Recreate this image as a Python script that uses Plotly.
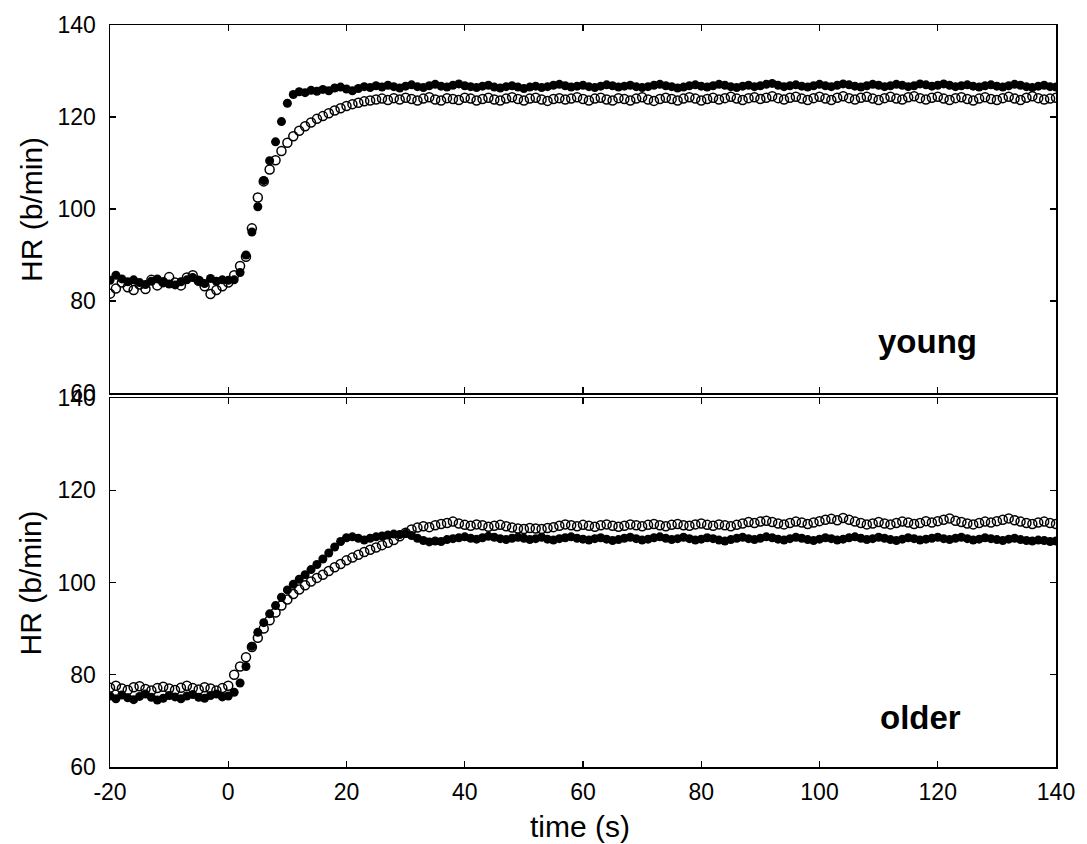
import plotly.graph_objects as go

# time (s), one sample per second
time_s = [-20, -19, -18, -17, -16, -15, -14, -13, -12, -11,
          -10, -9, -8, -7, -6, -5, -4, -3, -2, -1,
          0, 1, 2, 3, 4, 5, 6, 7, 8, 9,
          10, 11, 12, 13, 14, 15, 16, 17, 18, 19,
          20, 21, 22, 23, 24, 25, 26, 27, 28, 29,
          30, 31, 32, 33, 34, 35, 36, 37, 38, 39,
          40, 41, 42, 43, 44, 45, 46, 47, 48, 49,
          50, 51, 52, 53, 54, 55, 56, 57, 58, 59,
          60, 61, 62, 63, 64, 65, 66, 67, 68, 69,
          70, 71, 72, 73, 74, 75, 76, 77, 78, 79,
          80, 81, 82, 83, 84, 85, 86, 87, 88, 89,
          90, 91, 92, 93, 94, 95, 96, 97, 98, 99,
          100, 101, 102, 103, 104, 105, 106, 107, 108, 109,
          110, 111, 112, 113, 114, 115, 116, 117, 118, 119,
          120, 121, 122, 123, 124, 125, 126, 127, 128, 129,
          130, 131, 132, 133, 134, 135, 136, 137, 138, 139,
          140]

# young subjects, filled symbols
young_filled = [84.5, 85.6, 84.8, 84.2, 84.6, 84.0, 83.6, 84.3, 84.8, 84.1,
                83.7, 83.5, 84.2, 84.6, 85.1, 84.4, 83.8, 84.9, 84.3, 84.6,
                84.5, 84.6, 86.2, 90.0, 95.0, 100.5, 106.2, 110.5, 114.6, 119.0,
                123.0, 124.9, 125.5, 125.3, 125.8, 125.6, 126.0, 125.7, 126.3, 126.5,
                126.1, 125.7, 126.2, 126.6, 126.4, 126.8, 126.5, 126.9, 126.6, 126.3,
                126.7, 127.0, 126.6, 126.4, 126.8, 127.1, 126.7, 126.5, 126.9, 127.2,
                126.8, 126.6, 126.4, 126.7, 126.9, 126.5, 126.3, 126.6, 126.8, 126.5,
                126.2, 126.5, 126.7, 126.4, 126.6, 126.9, 127.1, 126.8, 126.5, 126.7,
                126.9, 126.6, 126.4, 126.7, 127.0, 126.8, 126.5, 126.7, 126.9, 126.6,
                126.4, 126.6, 126.9, 127.1, 126.8, 126.6, 126.3, 126.5, 126.8, 127.0,
                126.7, 126.5, 126.8, 127.1, 126.9, 126.6, 126.4, 126.7, 126.9, 126.6,
                126.8, 127.1, 127.3, 126.9, 126.6, 126.8, 127.0, 126.7, 126.5, 126.8,
                127.1, 126.8, 126.6, 126.9, 127.2, 127.0, 126.7, 126.5, 126.8, 127.1,
                126.9, 126.6, 126.8, 127.1, 126.9, 126.6, 126.8, 127.2, 127.0, 126.7,
                126.9, 127.2, 126.9, 126.6, 126.8, 127.0, 126.7, 126.5, 126.8, 127.0,
                126.7, 126.5, 126.8, 127.1, 126.9, 126.6, 126.4, 126.7, 126.9, 126.6,
                126.5]

# young subjects, open symbols
young_open = [81.6, 82.7, 84.0, 83.0, 82.4, 83.6, 82.6, 84.6, 83.4, 84.1,
              85.2, 84.0, 83.4, 85.1, 85.6, 84.4, 83.2, 81.5, 82.4, 83.2,
              84.0, 85.6, 87.6, 89.6, 95.8, 102.5, 106.0, 108.6, 110.6, 112.6,
              114.4, 115.8, 117.0, 118.0, 118.8, 119.6, 120.2, 120.8, 121.4, 121.9,
              122.4, 122.8, 123.1, 123.4, 123.6, 123.8, 124.0, 123.7, 124.1, 123.8,
              124.2, 123.9, 123.6, 124.0, 124.3, 123.8, 123.6, 124.1, 123.9, 123.7,
              124.2, 124.0, 123.6, 123.9, 124.2, 123.8, 123.6, 124.0, 124.3, 123.9,
              123.6, 124.0, 124.2, 123.8, 123.5, 123.9, 124.1, 123.8, 124.0, 124.3,
              123.9, 123.6, 124.0, 124.2, 123.8, 123.6, 124.1, 123.9, 123.6, 124.0,
              124.3, 123.8, 123.5, 123.9, 124.2, 123.9, 123.6, 124.0, 124.3, 124.0,
              123.6, 123.9, 124.2, 123.8, 124.1, 124.4, 124.0, 123.7, 124.1, 124.3,
              123.9, 124.2, 124.5, 124.1, 123.8, 124.2, 124.4, 124.0, 123.7, 124.1,
              124.4, 124.0, 123.7, 124.2, 124.5, 124.1, 123.8, 124.2, 124.4, 124.0,
              123.7, 124.1, 124.4, 124.0, 123.8, 124.3, 124.5, 124.1, 123.8, 124.2,
              124.4, 124.0, 123.7, 124.1, 124.3, 123.9, 123.6, 124.0, 124.3, 123.9,
              123.7, 124.1, 124.4, 124.0, 123.7, 124.2, 124.5, 124.1, 123.8, 124.0,
              124.2]

# older subjects, filled symbols
older_filled = [75.4, 74.8, 75.6, 75.0, 74.6, 75.3, 75.8, 75.1, 74.5, 74.9,
                75.5, 75.2, 74.8, 75.4, 75.7, 75.1, 74.9, 75.5, 75.8, 75.2,
                75.4, 76.2, 78.2, 81.8, 86.2, 89.2, 91.3, 93.2, 95.0, 96.8,
                98.4, 99.6, 100.7, 101.7, 102.8, 103.9, 105.1, 106.4, 107.7, 108.9,
                109.7, 109.9, 109.6, 109.2, 109.6, 109.9, 110.1, 110.3, 110.5, 110.4,
                110.6, 110.2, 109.6, 109.1, 108.8, 109.0, 108.9, 109.3, 109.5, 109.7,
                109.9, 109.6, 109.4, 109.7, 110.0, 109.8, 109.5, 109.3, 109.6, 109.8,
                109.6, 109.3, 109.5, 109.8, 109.4, 109.2, 109.5, 109.7, 109.9, 109.6,
                109.4, 109.2, 109.5, 109.7, 109.4, 109.1, 109.3, 109.6, 109.8, 109.5,
                109.2, 109.4, 109.7, 109.9, 109.6, 109.3, 109.5, 109.8, 109.5, 109.2,
                109.4, 109.7, 109.5, 109.2, 109.0, 109.3, 109.6, 109.8, 109.5, 109.3,
                109.6, 109.9, 109.7, 109.4, 109.2, 109.5, 109.8, 109.6, 109.3, 109.1,
                109.4, 109.7, 109.5, 109.2, 109.4, 109.7, 109.9, 109.6, 109.3, 109.5,
                109.8, 109.6, 109.3, 109.1, 109.4, 109.7, 109.5, 109.2, 109.4, 109.6,
                109.8, 109.5, 109.3, 109.6, 109.8, 109.5, 109.2, 109.4, 109.7, 109.5,
                109.3, 109.1, 109.4, 109.6, 109.3, 109.1, 109.0, 109.2, 109.1, 108.9,
                109.0]

# older subjects, open symbols
older_open = [77.2, 77.6, 77.0, 76.7, 77.3, 77.5, 76.9, 76.6, 77.1, 77.4,
              77.0, 76.7, 77.2, 77.6, 77.1, 76.8, 77.3, 77.0, 76.6, 77.1,
              77.6, 80.0, 81.8, 83.8, 86.0, 88.0, 90.0, 91.8, 93.5, 95.0,
              96.3, 97.5, 98.5, 99.4, 100.2, 101.0, 101.7, 102.5, 103.3, 104.0,
              104.8, 105.4, 106.0, 106.6, 107.1, 107.6, 108.1, 108.6, 109.2, 110.0,
              110.8, 111.5, 111.9, 112.2, 112.0, 112.4, 112.7, 112.9, 113.2, 112.8,
              112.5, 112.3, 112.6, 112.4, 112.1, 112.3, 112.5, 112.2, 111.9, 111.7,
              111.6, 111.8, 111.7, 111.6, 111.8, 112.0, 112.3, 112.6, 112.4, 112.2,
              112.5, 112.3, 112.1, 112.4, 112.6, 112.3, 112.1, 112.3, 112.6, 112.4,
              112.2, 112.5, 112.7, 112.4, 112.2, 112.5, 112.7, 112.4, 112.3, 112.6,
              112.8, 112.5, 112.3, 112.6, 112.4, 112.2, 112.5, 112.8, 113.1, 112.9,
              113.2, 113.4, 113.1, 112.8, 112.6, 112.9, 113.2, 113.0, 112.7, 113.0,
              113.3, 113.6, 113.8, 113.5, 114.0, 113.6, 113.2, 112.9, 112.6, 112.8,
              113.1, 112.8, 112.6, 112.9, 113.2, 113.0, 112.7, 112.9, 113.3, 113.0,
              113.3, 113.6, 113.9, 113.4, 113.1, 112.8, 112.6, 112.9, 113.2, 113.0,
              113.3, 113.6, 113.9, 113.5, 113.2, 112.9, 112.7, 113.0, 113.2, 112.9,
              112.7]

x_ticks = [-20, 0, 20, 40, 60, 80, 100, 120, 140]
x_tick_labels = ["-20", "0", "20", "40", "60", "80", "100", "120", "140"]
y_ticks = [60, 80, 100, 120, 140]
panel_labels = ["young", "older"]

FONT = "Liberation Sans, Arial, sans-serif"
MS = 9
W, H = 1087, 844
L, T = 110, 23
R, B = 20, 77
PW, PH = W - L - R, H - T - B

fig = go.Figure()

def add_pair(open_vals, filled_vals, xa, ya):
    fig.add_trace(go.Scatter(
        x=time_s, y=open_vals, mode="markers", xaxis=xa, yaxis=ya,
        marker=dict(symbol="circle-open", size=MS, color="black",
                    line=dict(width=1.5, color="black")),
        showlegend=False, hoverinfo="skip"))
    fig.add_trace(go.Scatter(
        x=time_s, y=filled_vals, mode="markers", xaxis=xa, yaxis=ya,
        marker=dict(symbol="circle", size=MS, color="black",
                    line=dict(width=0)),
        showlegend=False, hoverinfo="skip"))

add_pair(young_open, young_filled, "x", "y")
add_pair(older_open, older_filled, "x2", "y2")

ax_common = dict(showline=True, linecolor="black", linewidth=1.5,
                 mirror="ticks", ticks="inside", ticklen=6, tickwidth=1.2,
                 tickcolor="black", showgrid=False, zeroline=False,
                 tickfont=dict(family=FONT, size=23, color="black"))

fig.update_layout(
    width=W, height=H,
    margin=dict(l=L, r=R, t=T, b=B),
    paper_bgcolor="white", plot_bgcolor="white",
    xaxis=dict(domain=[0, 1], range=[-20, 140], tickvals=x_ticks,
               showticklabels=False, anchor="y", **ax_common),
    yaxis=dict(domain=[0.504, 1], range=[60, 140], tickvals=y_ticks,
               anchor="x", ticklabelstandoff=8, **ax_common),
    xaxis2=dict(domain=[0, 1], range=[-20, 140], tickvals=x_ticks,
                ticktext=x_tick_labels,
                anchor="y2", ticklabelstandoff=4, **ax_common),
    yaxis2=dict(domain=[0, 0.4973], range=[60, 140], tickvals=y_ticks,
                anchor="x2", ticklabelstandoff=8, **ax_common),
)

# panel labels
fig.add_annotation(x=118.3, y=71.2, xref="x", yref="y", text="<b>%s</b>" % panel_labels[0],
                   showarrow=False, font=dict(family=FONT, size=33, color="black"))
fig.add_annotation(x=117.0, y=70.7, xref="x2", yref="y2", text="<b>%s</b>" % panel_labels[1],
                   showarrow=False, font=dict(family=FONT, size=33, color="black"))

# axis titles
for ypx in [207.5, 582]:
    fig.add_annotation(x=(30 - L) / PW, y=(T + PH - ypx) / PH, xref="paper", yref="paper",
                       text="HR (b/min)", textangle=-90, showarrow=False,
                       xanchor="center", yanchor="middle",
                       font=dict(family=FONT, size=30, color="black"))
fig.add_annotation(x=(585 - L) / PW, y=(T + PH - 827) / PH, xref="paper", yref="paper",
                   text="time (s)", showarrow=False, xanchor="center", yanchor="middle",
                   font=dict(family=FONT, size=30, color="black"))

fig.write_html("out.html",
               config={"displayModeBar": False, "staticPlot": True},
               post_script="document.body.style.margin='0';"
                           "document.body.style.overflow='hidden';")
